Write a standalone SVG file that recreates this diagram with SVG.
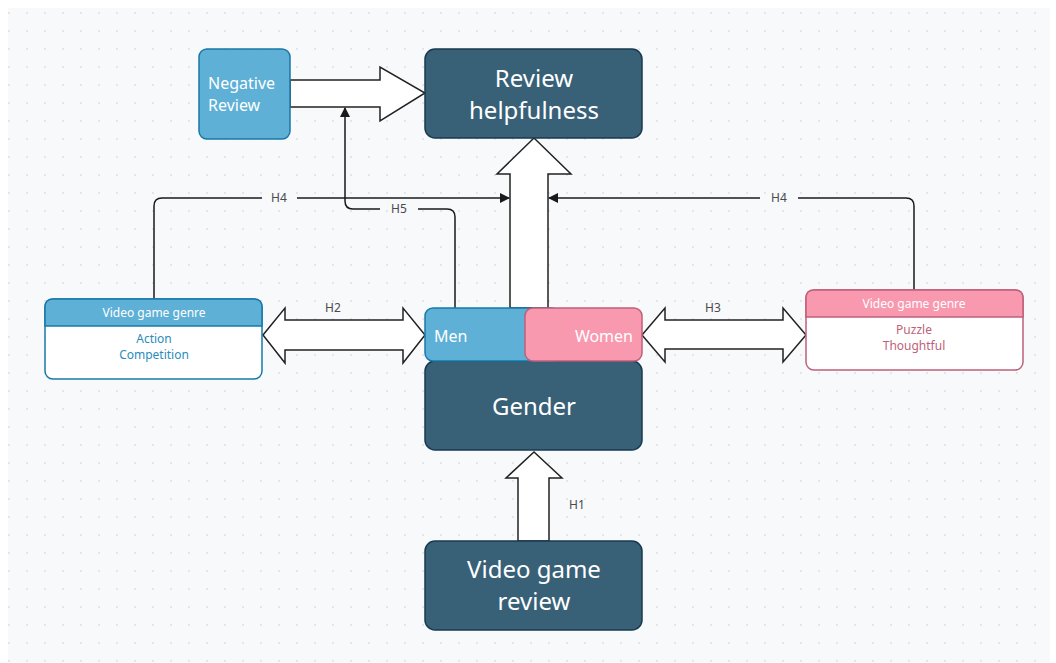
<svg xmlns="http://www.w3.org/2000/svg" width="1056" height="663" viewBox="0 0 1056 663">
<defs>
<pattern id="dots" x="0" y="4" width="18" height="18" patternUnits="userSpaceOnUse">
<circle cx="9" cy="9" r="1.1" fill="#dfe0e4"/>
</pattern>
<marker id="ah" viewBox="0 0 10 10" refX="9" refY="5" markerWidth="10" markerHeight="10" markerUnits="userSpaceOnUse" orient="auto">
<path d="M0,0 L10,5 L0,10 z" fill="#1a1a1a"/>
</marker>
<style>
.dark{fill:#386178;stroke:#183a50;stroke-width:1.5}
.blue{fill:#5eb0d6;stroke:#1978a8;stroke-width:1.5}
.pink{fill:#f899b0;stroke:#bf5f79;stroke-width:1.5}
.big{font-family:"Noto Sans","Open Sans",sans-serif;font-size:24px;fill:#ffffff;text-anchor:middle}
.mid{font-family:"Noto Sans","Open Sans",sans-serif;font-size:16px;fill:#ffffff}
.sm{font-family:"Noto Sans","Open Sans",sans-serif;font-size:12px;text-anchor:middle}
.lbl{font-family:"Noto Sans","Open Sans",sans-serif;font-size:12px;fill:#4a4a4a;text-anchor:middle}
.blk{fill:#ffffff;stroke:#222222;stroke-width:1.5;stroke-linejoin:miter}
.ln{fill:none;stroke:#1a1a1a;stroke-width:1.5}
</style>
</defs>
<rect width="1056" height="663" fill="#ffffff"/>
<rect x="8" y="8" width="1042" height="654" fill="#f8f9fb"/>
<rect x="8" y="8" width="1042" height="654" fill="url(#dots)"/>

<g id="connectors">
<path class="blk" d="M290,80 L380,80 L380,67 L425,93 L380,121 L380,107 L290,107 Z"/>
<path class="blk" d="M510,308 L510,174 L497,174 L534,138 L571,174 L548,174 L548,308 Z"/>
<path class="blk" d="M518,541 L518,478 L506,478 L534,452 L562,478 L549,478 L549,541 Z"/>
<text class="lbl" x="577" y="509">H1</text>
<path class="blk" d="M263,335 L285,308 L285,320 L403,320 L403,308 L425,335 L403,363 L403,350 L285,350 L285,363 Z"/>
<text class="lbl" x="333" y="312">H2</text>
<path class="blk" d="M642,335 L665,308 L665,320 L783,320 L783,308 L806,335 L783,362 L783,349 L665,349 L665,362 Z"/>
<text class="lbl" x="713" y="312">H3</text>
<path class="ln" d="M154,299 L154,206 Q154,198 162,198 L262,198"/>
<path class="ln" d="M297,198 L509,198" marker-end="url(#ah)"/>
<text class="lbl" x="279" y="202">H4</text>
<path class="ln" d="M914,290 L914,206 Q914,198 906,198 L798,198"/>
<path class="ln" d="M760,198 L549,198" marker-end="url(#ah)"/>
<text class="lbl" x="779" y="202">H4</text>
<path class="ln" d="M455,308 L455,217 Q455,209 447,209 L418,209"/>
<path class="ln" d="M380,209 L353,209 Q345,209 345,201 L345,108" marker-end="url(#ah)"/>
<text class="lbl" x="399" y="213">H5</text>
</g>

<g id="negative-review">
<rect class="blue" x="199" y="49" width="91" height="90" rx="8"/>
<text class="mid" x="208" y="89">Negative</text>
<text class="mid" x="208" y="111">Review</text>
</g>

<g id="review-helpfulness">
<rect class="dark" x="425" y="49" width="217" height="89" rx="10"/>
<text class="big" x="534" y="87">Review</text>
<text class="big" x="534" y="119">helpfulness</text>
</g>

<g id="gender">
<rect class="dark" x="425" y="361" width="217" height="89" rx="10"/>
<text class="big" x="534" y="415">Gender</text>
</g>

<g id="men">
<rect class="blue" x="425" y="308" width="135" height="53" rx="8"/>
<text class="mid" x="434" y="342">Men</text>
</g>

<g id="women">
<rect class="pink" x="525" y="308" width="117" height="53" rx="8"/>
<text class="mid" x="633" y="342" text-anchor="end">Women</text>
</g>

<g id="video-game-review">
<rect class="dark" x="425" y="541" width="217" height="89" rx="10"/>
<text class="big" x="534" y="578">Video game</text>
<text class="big" x="534" y="610">review</text>
</g>

<g id="genre-left">
<rect x="45" y="299" width="217" height="80" rx="8" fill="#ffffff" stroke="#1978a8" stroke-width="1.5"/>
<path d="M45,326 L45,307 Q45,299 53,299 L254,299 Q262,299 262,307 L262,326 Z" fill="#5eb0d6" stroke="#1978a8" stroke-width="1.5"/>
<text class="sm" x="154" y="317" fill="#ffffff">Video game genre</text>
<text class="sm" x="154" y="343" fill="#2a8cbb">Action</text>
<text class="sm" x="154" y="359" fill="#2a8cbb">Competition</text>
</g>

<g id="genre-right">
<rect x="806" y="290" width="217" height="80" rx="8" fill="#ffffff" stroke="#bf5f79" stroke-width="1.5"/>
<path d="M806,317 L806,298 Q806,290 814,290 L1015,290 Q1023,290 1023,298 L1023,317 Z" fill="#f899b0" stroke="#bf5f79" stroke-width="1.5"/>
<text class="sm" x="914" y="308" fill="#ffffff">Video game genre</text>
<text class="sm" x="914" y="334" fill="#bf5f79">Puzzle</text>
<text class="sm" x="914" y="350" fill="#bf5f79">Thoughtful</text>
</g>
</svg>
